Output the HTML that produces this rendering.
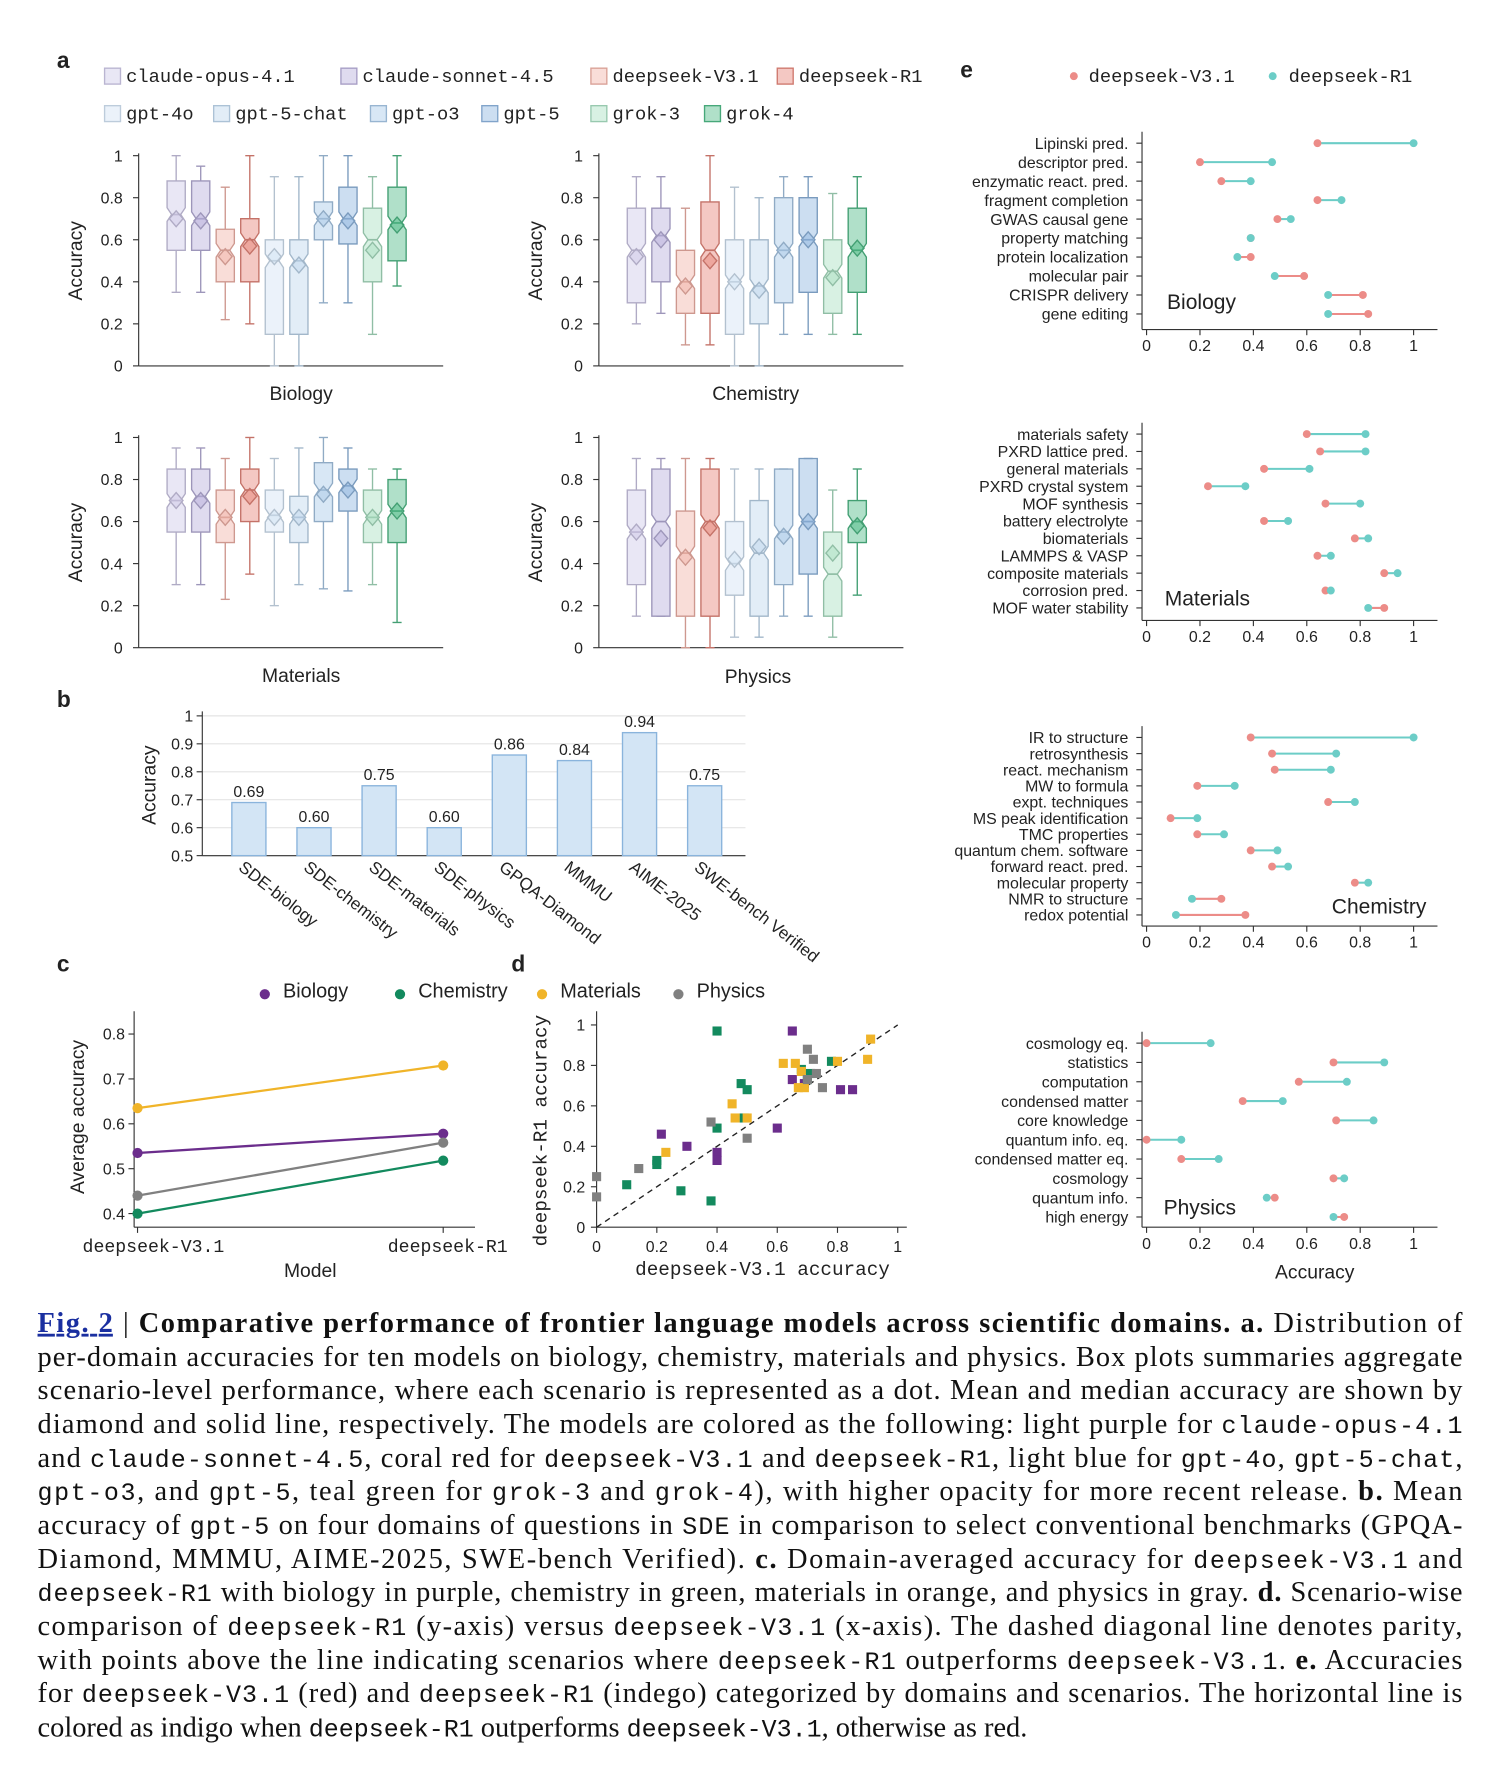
<!DOCTYPE html>
<html><head><meta charset="utf-8"><style>
html,body{margin:0;padding:0;background:#fff;}
svg{display:block;}
text{font-family:"Liberation Sans",sans-serif;fill:#222;}
.mono{font-family:"Liberation Mono",monospace;}
.cap{font-family:"Liberation Serif",serif;font-size:25px;fill:#111;}
.cap .mono{font-size:22px;}
</style></head><body>
<svg id="fig" width="1500" height="1784" viewBox="0 0 1320 1570" xmlns="http://www.w3.org/2000/svg">
<g id="root"></g>
<g id="caption">
<text class="cap" x="33" y="1172" textLength="1254" lengthAdjust="spacing"><tspan fill="#1a2fa0" text-decoration="underline" font-weight="bold">Fig. 2</tspan> | <tspan font-weight="bold">Comparative performance of frontier language models across scientific domains. a.</tspan> Distribution of</text>
<text class="cap" x="33" y="1202" textLength="1254" lengthAdjust="spacing">per-domain accuracies for ten models on biology, chemistry, materials and physics. Box plots summaries aggregate</text>
<text class="cap" x="33" y="1231" textLength="1254" lengthAdjust="spacing">scenario-level performance, where each scenario is represented as a dot. Mean and median accuracy are shown by</text>
<text class="cap" x="33" y="1261" textLength="1254" lengthAdjust="spacing">diamond and solid line, respectively. The models are colored as the following: light purple for <tspan class="mono">claude-opus-4.1</tspan></text>
<text class="cap" x="33" y="1291" textLength="1254" lengthAdjust="spacing">and <tspan class="mono">claude-sonnet-4.5</tspan>, coral red for <tspan class="mono">deepseek-V3.1</tspan> and <tspan class="mono">deepseek-R1</tspan>, light blue for <tspan class="mono">gpt-4o</tspan>, <tspan class="mono">gpt-5-chat</tspan>,</text>
<text class="cap" x="33" y="1320" textLength="1254" lengthAdjust="spacing"><tspan class="mono">gpt-o3</tspan>, and <tspan class="mono">gpt-5</tspan>, teal green for <tspan class="mono">grok-3</tspan> and <tspan class="mono">grok-4</tspan>), with higher opacity for more recent release. <tspan font-weight="bold">b.</tspan> Mean</text>
<text class="cap" x="33" y="1350" textLength="1254" lengthAdjust="spacing">accuracy of <tspan class="mono">gpt-5</tspan> on four domains of questions in <tspan class="mono">SDE</tspan> in comparison to select conventional benchmarks (GPQA-</text>
<text class="cap" x="33" y="1380" textLength="1254" lengthAdjust="spacing">Diamond, MMMU, AIME-2025, SWE-bench Verified). <tspan font-weight="bold">c.</tspan> Domain-averaged accuracy for <tspan class="mono">deepseek-V3.1</tspan> and</text>
<text class="cap" x="33" y="1409" textLength="1254" lengthAdjust="spacing"><tspan class="mono">deepseek-R1</tspan> with biology in purple, chemistry in green, materials in orange, and physics in gray. <tspan font-weight="bold">d.</tspan> Scenario-wise</text>
<text class="cap" x="33" y="1439" textLength="1254" lengthAdjust="spacing">comparison of <tspan class="mono">deepseek-R1</tspan> (y-axis) versus <tspan class="mono">deepseek-V3.1</tspan> (x-axis). The dashed diagonal line denotes parity,</text>
<text class="cap" x="33" y="1469" textLength="1254" lengthAdjust="spacing">with points above the line indicating scenarios where <tspan class="mono">deepseek-R1</tspan> outperforms <tspan class="mono">deepseek-V3.1</tspan>. <tspan font-weight="bold">e.</tspan> Accuracies</text>
<text class="cap" x="33" y="1498" textLength="1254" lengthAdjust="spacing">for <tspan class="mono">deepseek-V3.1</tspan> (red) and <tspan class="mono">deepseek-R1</tspan> (indego) categorized by domains and scenarios. The horizontal line is</text>
<text class="cap" x="33" y="1528">colored as indigo when <tspan class="mono">deepseek-R1</tspan> outperforms <tspan class="mono">deepseek-V3.1</tspan>, otherwise as red.</text>
</g>
</svg>
<script>
// ---------- data ----------
const models = ['claude-opus-4.1','claude-sonnet-4.5','deepseek-V3.1','deepseek-R1','gpt-4o','gpt-5-chat','gpt-o3','gpt-5','grok-3','grok-4'];
const modelColors = ['#cfc9e8','#b9b0db','#f2b3a8','#e6867a','#d2e3f3','#bfd7ee','#a9c9e8','#8fb6e0','#a9dfc2','#4fbb87'];
const domains = ['Biology','Chemistry','Materials','Physics'];
// [q1, median, q3, whiskerLow, whiskerHigh] per model
const boxBiology = [[.55,.72,.88,.35,1],[.55,.7,.88,.35,.95],[.4,.55,.65,.22,.85],[.4,.6,.7,.2,1],[.15,.5,.6,0,.9],[.15,.5,.6,0,.9],[.6,.7,.78,.3,1],[.58,.7,.85,.3,1],[.4,.6,.75,.15,.9],[.5,.68,.85,.38,1]];
const meanBiology = [.7,.69,.52,.57,.52,.48,.7,.69,.55,.67];
const boxChemistry = [[.3,.55,.75,.2,.9],[.4,.62,.75,.25,.9],[.25,.4,.55,.1,.75],[.25,.55,.78,.1,1],[.15,.4,.6,0,.85],[.2,.38,.6,0,.8],[.3,.55,.8,.15,.9],[.35,.6,.8,.15,.9],[.25,.45,.6,.15,.82],[.35,.55,.75,.15,.9]];
const meanChemistry = [.52,.6,.38,.5,.4,.36,.55,.6,.42,.56];
const boxMaterials = [[.55,.7,.85,.3,.95],[.55,.72,.85,.3,.95],[.5,.62,.75,.23,.9],[.6,.75,.85,.35,1],[.55,.63,.75,.2,.9],[.5,.62,.72,.3,.95],[.6,.75,.88,.28,1],[.65,.77,.85,.27,.95],[.5,.62,.75,.3,.85],[.5,.65,.8,.12,.85]];
const meanMaterials = [.7,.7,.62,.72,.62,.62,.73,.75,.62,.65];
const boxPhysics = [[.3,.55,.75,.15,.9],[.15,.6,.85,.15,.9],[.15,.45,.65,0,.9],[.15,.6,.85,0,.9],[.25,.4,.6,.05,.85],[.15,.45,.7,.05,.85],[.3,.55,.85,.15,.85],[.35,.6,.9,.15,.9],[.15,.35,.55,.05,.75],[.5,.6,.7,.25,.85]];
const meanPhysics = [.55,.52,.43,.57,.42,.48,.53,.6,.45,.58];

const benchNames = ['SDE-biology','SDE-chemistry','SDE-materials','SDE-physics','GPQA-Diamond','MMMU','AIME-2025','SWE-bench Verified'];
const benchValues = [0.69,0.60,0.75,0.60,0.86,0.84,0.94,0.75];

const domainNamesC = ['Biology','Chemistry','Materials','Physics'];
const domainColorsC = ['#6b2d8c','#138a5e','#f0b429','#808080'];
const avgV31 = [0.535,0.40,0.635,0.44];
const avgR1 = [0.578,0.518,0.73,0.558];

const scatterBio = [[.65,.97],[.215,.46],[.3,.4],[.4,.37],[.4,.33],[.6,.49],[.65,.73],[.81,.68],[.85,.68],[.69,.71]];
const scatterChem = [[.4,.97],[.4,.49],[.48,.71],[.5,.68],[.49,.54],[.2,.33],[.2,.31],[.1,.21],[.28,.18],[.38,.13],[.68,.78],[.7,.73],[.78,.82],[.71,.76]];
const scatterMat = [[.91,.93],[.9,.83],[.8,.82],[.62,.81],[.66,.81],[.68,.77],[.67,.69],[.69,.69],[.45,.61],[.46,.54],[.23,.37],[.5,.54]];
const scatterPhys = [[.7,.88],[.72,.83],[.75,.69],[.7,.73],[.38,.52],[.5,.44],[.14,.29],[.0,.25],[.0,.15],[.73,.76]];

const eBioNames = ['Lipinski pred.','descriptor pred.','enzymatic react. pred.','fragment completion','GWAS causal gene','property matching','protein localization','molecular pair','CRISPR delivery','gene editing'];
const eBioV31 = [.64,.2,.28,.64,.49,.39,.39,.59,.81,.83];
const eBioR1 = [1.0,.47,.39,.73,.54,.39,.34,.48,.68,.68];
const eMatNames = ['materials safety','PXRD lattice pred.','general materials','PXRD crystal system','MOF synthesis','battery electrolyte','biomaterials','LAMMPS & VASP','composite materials','corrosion pred.','MOF water stability'];
const eMatV31 = [.6,.65,.44,.23,.67,.44,.78,.64,.89,.67,.89];
const eMatR1 = [.82,.82,.61,.37,.8,.53,.83,.69,.94,.69,.83];
const eChemNames = ['IR to structure','retrosynthesis','react. mechanism','MW to formula','expt. techniques','MS peak identification','TMC properties','quantum chem. software','forward react. pred.','molecular property','NMR to structure','redox potential'];
const eChemV31 = [.39,.47,.48,.19,.68,.09,.19,.39,.47,.78,.28,.37];
const eChemR1 = [1.0,.71,.69,.33,.78,.19,.29,.49,.53,.83,.17,.11];
const ePhysNames = ['cosmology eq.','statistics','computation','condensed matter','core knowledge','quantum info. eq.','condensed matter eq.','cosmology','quantum info.','high energy'];
const ePhysV31 = [0,.7,.57,.36,.71,0,.13,.7,.48,.74];
const ePhysR1 = [.24,.89,.75,.51,.85,.13,.27,.74,.45,.7];

// ---------- helpers ----------
const NS='http://www.w3.org/2000/svg';
const root=document.getElementById('root');
function mk(tag,attrs,parent){const e=document.createElementNS(NS,tag);for(const k in attrs)e.setAttribute(k,attrs[k]);(parent||root).appendChild(e);return e;}
function txt(x,y,s,attrs,parent){const e=mk('text',Object.assign({x:x,y:y},attrs||{}),parent);e.textContent=s;return e;}
function darker(hex,f){const n=parseInt(hex.slice(1),16);let r=n>>16,g=(n>>8)&255,b=n&255;r=Math.round(r*f);g=Math.round(g*f);b=Math.round(b*f);return 'rgb('+r+','+g+','+b+')';}

[['a',50,60],['b',50,622],['c',50,855],['d',450,855],['e',845,68]].forEach(p=>{
  const t=txt(p[1],p[2],p[0],{'font-size':20,'font-weight':'bold'});
  
  
});

// ---------- panel a legend ----------
const legPos=[[92,67],[300,67],[520,67],[684,67],[92,100],[188,100],[326,100],[424,100],[520,100],[620,100]];
models.forEach((m,i)=>{
  const g=mk('g',{});
  
  
  mk('rect',{x:legPos[i][0],y:legPos[i][1]-7,width:14,height:14,fill:modelColors[i],'fill-opacity':0.45,stroke:darker(modelColors[i],0.9),'stroke-width':1.2},g);
  txt(legPos[i][0]+19,legPos[i][1]+5,m,{'font-size':16.5,class:'mono'},g);
});

// ---------- panel a box plots ----------
const panels=[{name:'Biology',x0:122,y0:322,box:boxBiology,mean:meanBiology,tx:265,ty:352},
{name:'Chemistry',x0:527,y0:322,box:boxChemistry,mean:meanChemistry,tx:665,ty:352},
{name:'Materials',x0:122,y0:570,box:boxMaterials,mean:meanMaterials,tx:265,ty:600},
{name:'Physics',x0:527,y0:570,box:boxPhysics,mean:meanPhysics,tx:667,ty:601}];
panels.forEach(P=>{
  const g=mk('g',{});
  
  
  const H=185, W=268;
  const y=v=>P.y0-v*H;
  const x=i=>P.x0+33+i*21.6;
  mk('line',{x1:P.x0,y1:P.y0-H-2,x2:P.x0,y2:P.y0,stroke:'#333','stroke-width':1},g);
  mk('line',{x1:P.x0,y1:P.y0,x2:P.x0+W,y2:P.y0,stroke:'#333','stroke-width':1},g);
  [0,0.2,0.4,0.6,0.8,1].forEach(t=>{
    mk('line',{x1:P.x0-5,y1:y(t),x2:P.x0,y2:y(t),stroke:'#333'},g);
    txt(P.x0-14,y(t)+5,t===0?'0':(t===1?'1':t.toFixed(1)),{'font-size':14,'text-anchor':'end'},g);
  });
  const yt=txt(0,0,'Accuracy',{'font-size':17,'text-anchor':'middle',transform:'translate('+(P.x0-50)+','+(P.y0-H/2)+') rotate(-90)'},g);
  
  
  const xt=txt(P.tx,P.ty,P.name,{'font-size':17,'text-anchor':'middle'},g);
  
  
  P.box.forEach((b,i)=>{
    const c=modelColors[i], s=darker(c,0.85), cx=x(i), w=8;
    const bg=mk('g',{},g);
    
    
    mk('line',{x1:cx,y1:y(b[3]),x2:cx,y2:y(b[0]),stroke:s,'stroke-width':1.2},bg);
    mk('line',{x1:cx,y1:y(b[2]),x2:cx,y2:y(b[4]),stroke:s,'stroke-width':1.2},bg);
    mk('line',{x1:cx-4,y1:y(b[3]),x2:cx+4,y2:y(b[3]),stroke:s,'stroke-width':1.2},bg);
    mk('line',{x1:cx-4,y1:y(b[4]),x2:cx+4,y2:y(b[4]),stroke:s,'stroke-width':1.2},bg);
    const n=4;
    const pts=[[cx-w,y(b[2])],[cx+w,y(b[2])],[cx+w,y(b[1])-6],[cx+w-n,y(b[1])],[cx+w,y(b[1])+6],[cx+w,y(b[0])],[cx-w,y(b[0])],[cx-w,y(b[1])+6],[cx-w+n,y(b[1])],[cx-w,y(b[1])-6]];
    mk('polygon',{points:pts.map(p=>p.join(',')).join(' '),fill:c,'fill-opacity':0.45,stroke:s,'stroke-width':1.2},bg);
    mk('line',{x1:cx-w+n,y1:y(b[1]),x2:cx+w-n,y2:y(b[1]),stroke:s,'stroke-width':1.5},bg);
    const my=y(P.mean[i]);
    const dm=mk('polygon',{points:[[cx,my-7],[cx+6,my],[cx,my+7],[cx-6,my]].map(p=>p.join(',')).join(' '),fill:c,'fill-opacity':0.5,stroke:s,'stroke-width':1.2},bg);
    
    
  });
});

// ---------- panel b ----------
(function(){
  const g=mk('g',{});
  
  
  const x0=178,y0=753,H=246,W=478;
  const y=v=>y0-(v-0.5)*H;
  const x=i=>219+i*57.3;
  [0.5,0.6,0.7,0.8,0.9,1].forEach(t=>{
    mk('line',{x1:x0,y1:y(t),x2:x0+W,y2:y(t),stroke:'#e4e4e4','stroke-width':1},g);
    mk('line',{x1:x0-5,y1:y(t),x2:x0,y2:y(t),stroke:'#333'},g);
    txt(x0-8,y(t)+5,t===1?'1':t.toFixed(1),{'font-size':14,'text-anchor':'end'},g);
  });
  mk('line',{x1:x0,y1:y(1)-4,x2:x0,y2:y0,stroke:'#333'},g);
  mk('line',{x1:x0,y1:y0,x2:x0+W,y2:y0,stroke:'#333'},g);
  txt(0,0,'Accuracy',{'font-size':17,'text-anchor':'middle',transform:'translate(137,691) rotate(-90)'},g);
  benchValues.forEach((v,i)=>{
    const r=mk('rect',{x:x(i)-15,y:y(v),width:30,height:y0-y(v),fill:'#d3e5f5',stroke:'#8ab4dc','stroke-width':1.2},g);
    
    
    txt(x(i),y(v)-5,v.toFixed(2),{'font-size':14,'text-anchor':'middle'},g);
    txt(0,0,benchNames[i],{'font-size':15,transform:'translate('+(x(i)-10)+','+(y0+12)+') rotate(38)'},g);
  });
})();

// ---------- panel c ----------
(function(){
  const g=mk('g',{});
  
  
  const x0=118,y0=1080,W=300;
  const y=v=>1068-(v-0.4)*395;
  const xs=[121,390];
  mk('line',{x1:x0,y1:890,x2:x0,y2:y0,stroke:'#333'},g);
  mk('line',{x1:x0,y1:y0,x2:x0+W,y2:y0,stroke:'#333'},g);
  [0.4,0.5,0.6,0.7,0.8].forEach(t=>{
    mk('line',{x1:x0-5,y1:y(t),x2:x0,y2:y(t),stroke:'#333'},g);
    txt(x0-8,y(t)+5,t.toFixed(1),{'font-size':14,'text-anchor':'end'},g);
  });
  xs.forEach((xx,i)=>{
    mk('line',{x1:xx,y1:y0,x2:xx,y2:y0+5,stroke:'#333'},g);
    txt(xx+(i?4:14),y0+22,i?'deepseek-R1':'deepseek-V3.1',{'font-size':16,class:'mono','text-anchor':'middle'},g);
  });
  txt(273,1124,'Model',{'font-size':17,'text-anchor':'middle'},g);
  txt(0,0,'Average accuracy',{'font-size':17,'text-anchor':'middle',transform:'translate(74,983) rotate(-90)'},g);
  const legX=[233,352,477,597];
  domainNamesC.forEach((d,i)=>{
    const l=mk('g',{},g);
    
    
    mk('circle',{cx:legX[i],cy:875,r:4.5,fill:domainColorsC[i]},l);
    txt(legX[i]+16,878,d,{'font-size':17.5},l);
    const ln=mk('g',{},g);
    
    
    mk('line',{x1:xs[0],y1:y(avgV31[i]),x2:xs[1],y2:y(avgR1[i]),stroke:domainColorsC[i],'stroke-width':2},ln);
    mk('circle',{cx:xs[0],cy:y(avgV31[i]),r:4.5,fill:domainColorsC[i]},ln);
    mk('circle',{cx:xs[1],cy:y(avgR1[i]),r:4.5,fill:domainColorsC[i]},ln);
  });
})();

// ---------- panel d ----------
(function(){
  const g=mk('g',{});
  
  
  const x=v=>525+v*265, y=v=>1080-v*178;
  mk('line',{x1:x(0),y1:890,x2:x(0),y2:y(0),stroke:'#333'},g);
  mk('line',{x1:x(0),y1:y(0),x2:x(1)+8,y2:y(0),stroke:'#333'},g);
  mk('line',{x1:x(0),y1:y(0),x2:x(1),y2:y(1),stroke:'#222','stroke-dasharray':'5,4','stroke-width':1.2},g);
  [0,0.2,0.4,0.6,0.8,1].forEach(t=>{
    const lb=t===0?'0':(t===1?'1':t.toFixed(1));
    mk('line',{x1:x(0)-5,y1:y(t),x2:x(0),y2:y(t),stroke:'#333'},g);
    txt(x(0)-10,y(t)+5,lb,{'font-size':14,'text-anchor':'end'},g);
    mk('line',{x1:x(t),y1:y(0),x2:x(t),y2:y(0)+5,stroke:'#333'},g);
    txt(x(t),y(0)+22,lb,{'font-size':14,'text-anchor':'middle'},g);
  });
  txt(671,1122,'deepseek-V3.1 accuracy',{'font-size':17,class:'mono','text-anchor':'middle'},g);
  txt(0,0,'deepseek-R1 accuracy',{'font-size':17,class:'mono','text-anchor':'middle',transform:'translate(481,995) rotate(-90)'},g);
  [[scatterBio,'#6b2d8c','biology'],[scatterChem,'#138a5e','chemistry'],[scatterMat,'#f0b429','materials'],[scatterPhys,'#808080','physics']].forEach(s=>{
    s[0].forEach(p=>{
      const r=mk('rect',{x:x(p[0])-4,y:y(p[1])-4,width:8,height:8,fill:s[1]},g);
      
      
    });
  });
})();

// ---------- panel e ----------
const RED='#ec8c88', TEAL='#6ccdc7';
(function(){
  const lg=mk('g',{});
  
  
  mk('circle',{cx:945,cy:67,r:3.5,fill:RED},lg);
  txt(958,72,'deepseek-V3.1',{'font-size':16.5,class:'mono'},lg);
  mk('circle',{cx:1120,cy:67,r:3.5,fill:TEAL},lg);
  txt(1134,72,'deepseek-R1',{'font-size':16.5,class:'mono'},lg);
})();
const eP=[{n:'Biology',names:eBioNames,a:eBioV31,b:eBioR1,top:126,step:16.7,axis:290,lx:1027,ly:272},
{n:'Materials',names:eMatNames,a:eMatV31,b:eMatR1,top:382,step:15.3,axis:546,lx:1025,ly:533},
{n:'Chemistry',names:eChemNames,a:eChemV31,b:eChemR1,top:649,step:14.2,axis:815,lx:1172,ly:804},
{n:'Physics',names:ePhysNames,a:ePhysV31,b:ePhysR1,top:918,step:17,axis:1080,lx:1024,ly:1069}];
eP.forEach(P=>{
  const g=mk('g',{});
  
  
  const x=v=>1009+v*235;
  const yr=i=>P.top+i*P.step;
  mk('line',{x1:1005,y1:P.top-10,x2:1005,y2:P.axis,stroke:'#333'},g);
  mk('line',{x1:1005,y1:P.axis,x2:1265,y2:P.axis,stroke:'#333'},g);
  [0,0.2,0.4,0.6,0.8,1].forEach(t=>{
    mk('line',{x1:x(t),y1:P.axis,x2:x(t),y2:P.axis+5,stroke:'#333'},g);
    txt(x(t),P.axis+19,t===0?'0':(t===1?'1':t.toFixed(1)),{'font-size':14,'text-anchor':'middle'},g);
  });
  txt(P.lx,P.ly,P.n,{'font-size':18.5,fill:'#334'},g);
  P.names.forEach((nm,i)=>{
    mk('line',{x1:1000,y1:yr(i),x2:1005,y2:yr(i),stroke:'#333'},g);
    txt(993,yr(i)+5,nm,{'font-size':14,'text-anchor':'end'},g);
    const rg=mk('g',{},g);
    
    
    mk('line',{x1:x(P.a[i]),y1:yr(i),x2:x(P.b[i]),y2:yr(i),stroke:P.b[i]>P.a[i]?TEAL:RED,'stroke-width':1.8},rg);
    mk('circle',{cx:x(P.a[i]),cy:yr(i),r:3.5,fill:RED},rg);
    mk('circle',{cx:x(P.b[i]),cy:yr(i),r:3.5,fill:TEAL},rg);
  });
});
txt(1157,1125,'Accuracy',{'font-size':17,'text-anchor':'middle'});
</script>
</body></html>
